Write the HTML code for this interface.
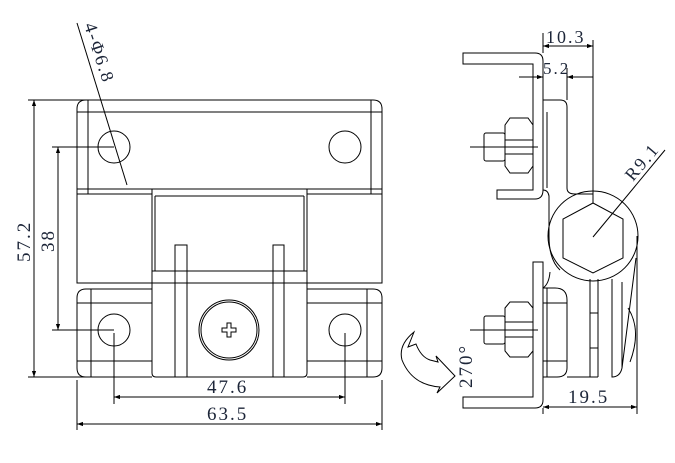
<!DOCTYPE html>
<html><head><meta charset="utf-8"><style>
html,body{margin:0;padding:0;background:#fff;}
svg{display:block;}
text{font-family:"Liberation Serif","DejaVu Serif",serif;fill:#1c2538;letter-spacing:2px;}
</style></head><body>
<svg width="675" height="463" viewBox="0 0 675 463" xmlns="http://www.w3.org/2000/svg">
<defs>
<marker id="a" viewBox="0 0 10 10" refX="10" refY="5" markerWidth="10" markerHeight="6" orient="auto-start-reverse" markerUnits="userSpaceOnUse"><path d="M0,1.5 L10,5 L0,8.5 z" fill="#000"/></marker>
</defs>
<g fill="none" stroke="#000" stroke-width="1">
<path d="M77,194 V109 Q77,100 86,100 H373 Q382,100 382,109 V194"/>
<line x1="88" y1="100" x2="88" y2="194"/>
<line x1="371" y1="100" x2="371" y2="194"/>
<line x1="77" y1="112" x2="382" y2="112"/>
<line x1="77" y1="189" x2="152" y2="189"/>
<line x1="307" y1="189" x2="382" y2="189"/>
<line x1="77" y1="194" x2="152" y2="194"/>
<line x1="307" y1="194" x2="382" y2="194"/>
<circle cx="114" cy="147" r="16"/>
<circle cx="345" cy="147" r="16"/>
<rect x="77" y="194" width="75" height="89"/>
<rect x="307" y="194" width="75" height="89"/>
<path d="M152,189 H307 V373 Q307,377 303,377 H156 Q152,377 152,373 Z"/>
<path d="M155,196 H304 M152,271 H307 M152,283 H307"/>
<line x1="155" y1="196" x2="155" y2="271"/>
<line x1="304" y1="196" x2="304" y2="271"/>
<rect x="175" y="245" width="12" height="132"/>
<rect x="273" y="245" width="11" height="132"/>
<path d="M152,289 H86 Q77,289 77,298 V368 Q77,377 86,377 H152"/>
<path d="M307,289 H373 Q382,289 382,298 V368 Q382,377 373,377 H307"/>
<line x1="91" y1="289" x2="91" y2="377"/>
<line x1="367" y1="289" x2="367" y2="377"/>
<line x1="77" y1="303" x2="152" y2="303"/>
<line x1="307" y1="303" x2="382" y2="303"/>
<line x1="77" y1="361" x2="152" y2="361"/>
<line x1="307" y1="361" x2="382" y2="361"/>
<circle cx="114" cy="330" r="16"/>
<circle cx="345" cy="330" r="16"/>
<circle cx="229" cy="330" r="30"/>
<circle cx="229" cy="330" r="28"/>
<path d="M227,323 h4 v5 h5 v4 h-5 v5 h-4 v-5 h-5 v-4 h5 z"/>
<line x1="28" y1="100" x2="86" y2="100"/>
<line x1="28" y1="377" x2="90" y2="377"/>
<line x1="34" y1="100" x2="34" y2="377" marker-start="url(#a)" marker-end="url(#a)"/>
<line x1="52" y1="147" x2="114" y2="147"/>
<line x1="52" y1="330" x2="114" y2="330"/>
<line x1="58" y1="147" x2="58" y2="330" marker-start="url(#a)" marker-end="url(#a)"/>
<line x1="114" y1="333" x2="114" y2="404"/>
<line x1="345" y1="333" x2="345" y2="404"/>
<line x1="114" y1="397" x2="345" y2="397" marker-start="url(#a)" marker-end="url(#a)"/>
<line x1="77" y1="380" x2="77" y2="430"/>
<line x1="382" y1="380" x2="382" y2="430"/>
<line x1="77" y1="424" x2="382" y2="424" marker-start="url(#a)" marker-end="url(#a)"/>
<line x1="77" y1="23" x2="127" y2="185"/>
<!-- RIGHT VIEW -->
<path d="M463,53 H535 Q543,53 543,61 V190 Q543,199 535,199 H497 V190 H533 V64 H463 Z"/>
<path d="M533,262 H543 V400 Q543,408 535,408 H463 V397 H533 Z"/>
<path d="M505,125 L510,118 H528 L533,125 V166 L528,173 H510 L505,166 Z"/>
<path d="M505,140 H533 M505,154 H533"/>
<rect x="484" y="133" width="21" height="28" rx="2"/>
<line x1="470" y1="147" x2="538" y2="147"/>
<path d="M505,308 L510,302 H528 L533,308 V351 L528,357 H510 L505,351 Z"/>
<path d="M505,322 H533 M505,337 H533"/>
<rect x="484" y="316" width="21" height="28" rx="2"/>
<line x1="470" y1="330" x2="538" y2="330"/>
<path d="M543,100 H560 Q567,100 567,107 V188 Q567,194 575,194 H593"/>
<line x1="547" y1="112" x2="547" y2="188"/>
<path d="M543,190 Q548,190 549,196 V236 Q549,260 560,270"/>
<circle cx="593" cy="236" r="45"/>
<path d="M593,203 L623,219 L623,258 L593,273 L563,258 L563,219 Z"/>
<line x1="593" y1="237" x2="665" y2="150"/>
<line x1="593" y1="40" x2="593" y2="203"/>
<line x1="543" y1="33" x2="543" y2="53"/>
<line x1="543" y1="46" x2="593" y2="46" marker-start="url(#a)" marker-end="url(#a)"/>
<line x1="519" y1="77" x2="543" y2="77" marker-end="url(#a)"/>
<line x1="567" y1="77" x2="593" y2="77" marker-start="url(#a)"/>
<line x1="567" y1="68" x2="567" y2="100"/>
<path d="M543,288 Q549,284 550,272"/>
<path d="M543,288 H555 Q567,288 567,300 V368 Q567,377 557,377 H543"/>
<line x1="547" y1="288" x2="547" y2="377"/>
<line x1="543" y1="303" x2="567" y2="303"/>
<line x1="543" y1="361" x2="567" y2="361"/>
<line x1="590" y1="279" x2="590" y2="377"/>
<line x1="598" y1="279" x2="598" y2="377"/>
<line x1="590" y1="313" x2="598" y2="313"/>
<line x1="590" y1="348" x2="598" y2="348"/>
<line x1="567" y1="377" x2="598" y2="377"/>
<path d="M612,279 V377 Q620,377 622,368 L636,258"/>
<line x1="622" y1="282" x2="622" y2="368"/>
<path d="M628,308 Q642,330 630,362"/>
<line x1="543" y1="408" x2="543" y2="414"/>
<line x1="637" y1="236" x2="637" y2="414"/>
<line x1="543" y1="407" x2="637" y2="407" marker-start="url(#a)" marker-end="url(#a)"/>
<path d="M414,332 L408,347 L416,344 Q421,357 430,360 L438,362 L436,356 L455,376 L437,393 L440,387 Q412,385 402,360 Q398,345 414,332 Z"/>
</g>
<text x="0" y="0" font-size="19" transform="translate(30,262) rotate(-90)">57.2</text>
<text x="0" y="0" font-size="19" transform="translate(54,252) rotate(-90)">38</text>
<text x="207" y="393" font-size="19">47.6</text>
<text x="207" y="420" font-size="19">63.5</text>
<text x="0" y="0" font-size="18" transform="translate(84,25) rotate(72)">4-Φ6.8</text>
<text x="546" y="43" font-size="18">10.3</text>
<text x="543" y="74" font-size="17">5.2</text>
<text x="0" y="0" font-size="18" transform="translate(633,182) rotate(-50)">R9.1</text>
<text x="568" y="403" font-size="19">19.5</text>
<text x="0" y="0" font-size="19" transform="translate(472,388) rotate(-90)">270°</text>
</svg>
</body></html>
